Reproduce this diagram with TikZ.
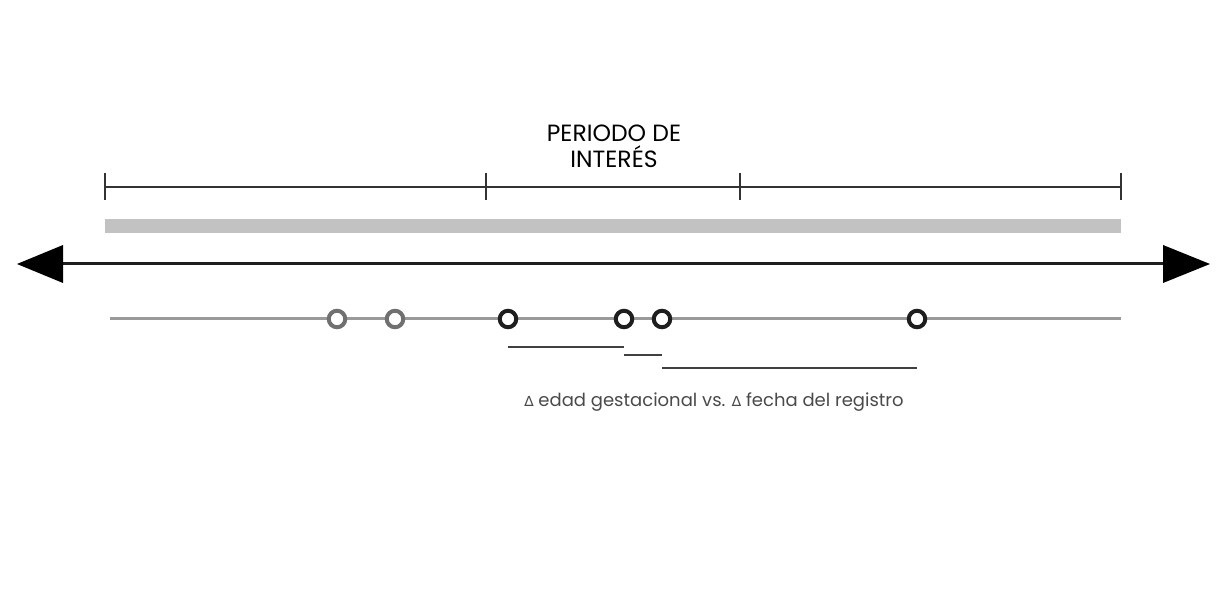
\documentclass[tikz,border=0pt]{standalone}
\usepackage{fontspec}
\setmainfont{Poppins}
\newfontfamily\symfont{DejaVu Sans}
\usetikzlibrary{calc}
\definecolor{bargray}{HTML}{C2C2C3}
\definecolor{linegray}{HTML}{9A9A9A}
\definecolor{ringgray}{HTML}{707070}
\definecolor{ringdark}{HTML}{1E1E1E}
\definecolor{textgray}{HTML}{4A4A4A}
\tikzset{
  tick/.style={draw=black!80, line width=1.2pt},
  ring/.style={circle, draw=ringdark, line width=4pt, fill=white, minimum size=16.5pt, inner sep=0pt},
  ringlight/.style={ring, draw=ringgray},
  span/.style={draw=black!75, line width=1.5pt},
  arrowhead/.style={fill=black},
}
\newcommand{\dlt}{{\symfont\fontsize{14}{14}\selectfont ∆}}
\begin{document}
\begin{tikzpicture}[x=1pt,y=1pt]
\useasboundingbox (0,0) rectangle (1227,-593);
% title
\node[font=\fontsize{23.5}{26}\selectfont, align=center] (title) at (614,-146) {PERIODO DE\\INTERÉS};
% period scale
\coordinate (p0) at (105,-187);
\coordinate (p1) at (486,-187);
\coordinate (p2) at (740,-187);
\coordinate (p3) at (1121,-187);
\draw[tick] (p0) -- (p3);
\foreach \p in {p0,p1,p2,p3}
  \draw[tick] ($(\p)+(0,14)$) -- ($(\p)+(0,-13)$);
% gray band
\fill[bargray] (105,-219) rectangle (1121,-233);
% time axis
\coordinate (tl) at (17,-264);
\coordinate (tr) at (1210,-264);
\draw[ringdark, line width=3pt] (60,-264) -- (1166,-264);
\fill[arrowhead] (tl) -- (63,-245) -- (63,-283) -- cycle;
\fill[arrowhead] (tr) -- (1163,-245) -- (1163,-283) -- cycle;
% records
\coordinate (r0) at (110,-319);
\coordinate (r1) at (1121,-319);
\draw[linegray, line width=3pt] (r0) -- (r1);
\node[ringlight] (a) at (337,-319) {};
\node[ringlight] (b) at (395,-319) {};
\node[ring] (c) at (508,-319) {};
\node[ring] (d) at (624,-319) {};
\node[ring] (e) at (662,-319) {};
\node[ring] (f) at (917,-319) {};
% intervals
\draw[span] ($(c)+(0,-28)$) -- ($(d)+(0,-28)$);
\draw[span] ($(d)+(0,-36)$) -- ($(e)+(0,-36)$);
\draw[span] ($(e)+(0,-49)$) -- ($(f)+(0,-49)$);
\node[font=\fontsize{18}{20}\selectfont, text=textgray] (caption) at (714,-402)
  {\dlt{} edad gestacional vs. \dlt{} fecha del registro};
\end{tikzpicture}
\end{document}
